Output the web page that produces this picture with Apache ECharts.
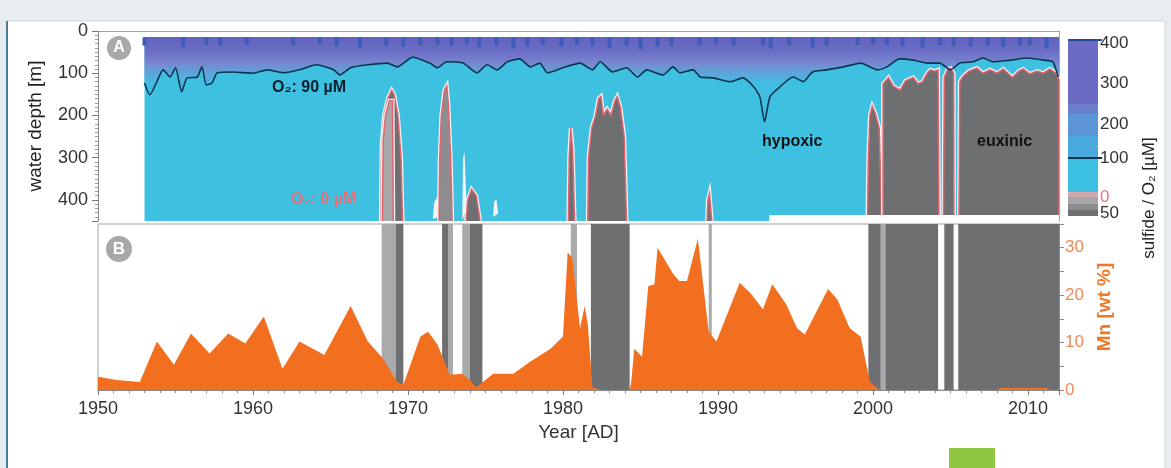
<!DOCTYPE html>
<html><head><meta charset="utf-8">
<script src="https://cdn.jsdelivr.net/npm/echarts@6/dist/echarts.min.js"></script>
<style>html,body{margin:0;padding:0;background:#e8edf0;}#c{width:1171px;height:468px;}</style>
</head><body><div id="c"></div>
<script>
// ---------------- DATA ----------------
// Panel A: record span (years) and depth limits [m]
const recordSpan = [1953.0, 2012.0];
const surfaceDepth = 14;
const dataBottom = [[1953.0, 450], [1993.3, 450], [1993.3, 436], [2012.0, 436]];

// O2 = 90 µM isoline depth [year, depth m]
const o2Line90 = [
  [1953.0,123],[1953.35,151],[1953.8,120],[1954.2,92],[1954.65,109],[1955.0,87],[1955.4,144],[1955.75,111],
  [1956.4,109],[1956.7,85],[1957.0,128],[1957.35,123],[1957.7,99],[1958.7,97],[1960.0,100],[1960.9,92],
  [1962.0,99],[1963.0,92],[1964.1,80],[1965.2,92],[1965.6,104],[1966.3,87],[1967.4,80],[1968.65,76],
  [1969.3,85],[1970.3,62],[1971.4,76],[1971.9,87],[1972.5,73],[1973.55,76],[1974.45,99],[1975.1,80],
  [1975.75,92],[1976.4,73],[1977.2,66],[1977.9,85],[1978.5,76],[1979.0,99],[1980.0,87],[1981.1,76],
  [1981.9,92],[1982.4,73],[1983.2,97],[1984.1,87],[1984.8,109],[1985.4,92],[1986.45,104],[1987.1,85],
  [1987.55,99],[1988.4,92],[1988.85,109],[1989.7,111],[1990.8,120],[1991.6,111],[1992.3,132],[1992.7,156],
  [1993.0,215],[1993.35,156],[1994.0,132],[1994.85,109],[1995.5,120],[1996.1,97],[1997.0,92],[1998.1,85],
  [1999.2,76],[2000.3,92],[2000.9,85],[2001.7,66],[2002.6,69],[2003.5,76],[2004.3,76],[2005.0,92],
  [2005.6,76],[2006.45,73],[2007.1,64],[2007.75,73],[2008.85,69],[2009.95,64],[2011.0,69],[2011.6,73],[2011.95,109]
];

// Winter ventilation spikes of high O2 near the surface [year, depth m]
const ventSpikes = [
  [1953.0,35],[1955.5,38],[1957.0,34],[1957.9,36],[1959.6,33],[1962.6,34],[1964.3,32],[1965.4,36],[1966.9,40],
  [1968.6,36],[1969.7,38],[1970.8,34],[1971.9,33],[1972.8,36],[1973.8,32],[1974.6,38],[1975.7,34],[1976.8,42],
  [1977.7,36],[1978.7,34],[1979.9,38],[1980.9,34],[1981.9,36],[1983.0,40],[1984.1,36],[1985.0,44],[1986.1,38],
  [1987.0,36],[1988.8,34],[1989.9,32],[1991.0,34],[1992.9,36],[1993.4,42],[1994.6,34],[1996.1,40],[1997.0,36],
  [1999.0,34],[2000.0,32],[2000.9,34],[2001.9,36],[2003.2,40],[2004.3,34],[2005.2,36],[2006.3,38],[2007.4,36],
  [2008.4,38],[2009.5,36],[2010.1,34],[2011.2,42]
];

// Sulfidic (O2 = 0 µM) patches: outline [year, depth m]
const patch1969 = [[1968.25,450],[1968.3,270],[1968.45,200],[1968.7,160],[1968.95,140],[1969.1,150],[1969.35,200],[1969.55,300],[1969.65,450]];
const patch1969Light = [[1968.35,450],[1968.4,260],[1968.55,200],[1968.8,165],[1969.0,165],[1969.05,450]];
const patch1972 = [[1972.0,450],[1972.05,300],[1972.15,200],[1972.35,140],[1972.5,130],[1972.6,170],[1972.75,300],[1972.85,450]];
const patch1974 = [[1973.75,450],[1973.85,400],[1974.1,375],[1974.4,390],[1974.65,450]];
const patch1980 = [[1980.35,450],[1980.4,300],[1980.5,230],[1980.62,280],[1980.75,450]];
const patch1982 = [[1981.6,450],[1981.65,300],[1981.85,230],[1982.1,200],[1982.3,160],[1982.45,155],[1982.6,200],[1982.85,185],
  [1983.1,200],[1983.35,165],[1983.5,155],[1983.7,180],[1983.95,250],[1984.1,450]];
const patch1989 = [[1989.3,450],[1989.35,400],[1989.45,385],[1989.6,450]];
const patch2000 = [[1999.65,436],[1999.7,300],[1999.8,200],[1999.95,178],[2000.15,195],[2000.4,230],[2000.55,436]];
const patch2001 = [[2000.65,436],[2000.65,125],[2001.0,110],[2001.3,130],[2001.75,140],[2002.1,118],[2002.6,110],[2002.9,125],
  [2003.2,120],[2003.5,100],[2003.7,92],[2004.0,95],[2004.2,92],[2004.25,436]];
const patch2004 = [[2004.55,436],[2004.6,110],[2004.8,92],[2005.0,88],[2005.2,100],[2005.22,436]];
const patch2006 = [[2005.55,436],[2005.6,120],[2005.8,108],[2006.2,95],[2006.7,88],[2007.1,100],[2007.55,92],[2008.0,100],
  [2008.4,90],[2009.0,110],[2009.4,95],[2009.7,90],[2010.1,102],[2010.6,95],[2011.0,100],[2011.4,90],[2011.8,100],[2012.0,115],[2012.0,436]];
const sulfidicPatches = [patch1969, patch1969Light, patch1972, patch1974, patch1980, patch1982, patch1989, patch2000, patch2001, patch2004, patch2006];

// Low-O2 (white) pockets without sulfide
const oxicPockets = [
  [[1971.6,445],[1971.7,405],[1971.9,392],[1972.02,440]],
  [[1973.5,450],[1973.55,300],[1973.65,288],[1973.78,420]],
  [[1975.5,440],[1975.55,405],[1975.7,398],[1975.82,432]]
];

// Panel B: Mn content [year, wt %]
const mnData = [
  [1950.0,2.8],[1951.2,2.1],[1952.7,1.7],[1953.8,10.2],[1954.9,5.3],[1956.0,11.9],[1957.2,7.7],[1958.4,11.9],[1959.5,9.8],
  [1960.7,15.5],[1961.9,4.5],[1963.0,10.2],[1964.6,7.4],[1966.3,17.7],[1967.4,10.3],[1968.4,6.6],[1969.3,1.7],[1969.7,1.1],
  [1970.8,11.3],[1971.3,12.3],[1971.9,9.6],[1972.7,3.2],[1973.5,3.4],[1974.0,2.1],[1974.4,0.6],[1975.5,3.4],[1976.8,3.4],
  [1977.9,6.0],[1979.2,8.7],[1980.0,11.3],[1980.3,29.0],[1980.6,27.9],[1981.1,13.0],[1981.4,17.7],[1981.6,13.8],[1981.9,0.6],
  [1982.5,0],[1984.3,0],[1984.4,1.7],[1984.6,8.7],[1985.1,7.0],[1985.5,21.9],[1985.9,22.3],[1986.1,30.0],[1987.1,24.5],
  [1987.5,23.0],[1988.0,23.0],[1988.7,31.9],[1989.4,12.3],[1989.9,10.2],[1991.4,22.6],[1992.1,20.4],[1992.9,17.0],[1993.5,22.3],
  [1994.4,18.1],[1995.1,13.0],[1995.6,11.7],[1997.1,21.3],[1997.7,19.1],[1998.5,13.0],[1999.2,11.3],[1999.8,1.7],[2000.3,0.3],
  [2000.5,0],[2008.0,0],[2008.2,0.4],[2011.2,0.4],[2011.4,0],[2012.0,0]
];

// Panel B: anoxic periods [start, end]
const lightBars = [[1968.3,1969.2],[1972.6,1972.9],[1973.5,1974.0],[1980.5,1980.9],[1989.4,1989.6],[2000.5,2000.8]];
const darkBars = [[1969.2,1969.7],[1972.2,1972.6],[1974.0,1974.8],[1981.8,1984.3],[1999.7,2000.5],[2000.8,2004.2],[2004.6,2005.2],[2005.5,2012.0]];

// Colour bar tick labels
const cbLabels = ['400','300','200','100','0','50'];

// ---------------- CHART ----------------
const FONT = '"Liberation Sans", Arial, Helvetica, sans-serif';
const chart = echarts.init(document.getElementById('c'));
const GREY = '#6e6f71', RED = '#e2636f';

function polyRender(list, fillFor, halo) {
  return function (params, api) {
    const pts = list[params.dataIndex].map(p => api.coord(p));
    const fill = fillFor(params.dataIndex);
    const kids = [];
    if (halo) kids.push({type:'polyline', shape:{points:pts}, style:{fill:null, stroke:'#f2f2f2', lineWidth:4}});
    kids.push({type:'polygon', shape:{points:pts}, style:{fill:fill}});
    if (halo) kids.push({type:'polyline', shape:{points:pts}, style:{fill:null, stroke:RED, lineWidth:1.5}});
    return {type:'group', children:kids};
  };
}

const option = {
  backgroundColor: '#e8edf0',
  animation: false,
  textStyle: {fontFamily: FONT},
  grid: [
    {left: 98, right: 112, top: 31, height: 190, show: false},
    {left: 98, right: 112, top: 224, height: 166, show: true, borderColor: '#a3a3a3', borderWidth: 1, backgroundColor: 'transparent'}
  ],
  xAxis: [
    {gridIndex: 0, type: 'value', min: 1950, max: 2012, position: 'top',
     axisLine: {show: true, lineStyle: {color: '#a3a3a3'}}, axisTick: {show: false}, axisLabel: {show: false}, splitLine: {show: false}},
    {gridIndex: 1, type: 'value', min: 1950, max: 2012, interval: 10,
     name: 'Year [AD]', nameLocation: 'middle', nameGap: 33,
     nameTextStyle: {fontSize: 19, color: '#333', fontFamily: FONT},
     axisLine: {show: true, lineStyle: {color: '#8a8a8a'}},
     axisTick: {show: true, length: 5, lineStyle: {color: '#777'}},
     minorTick: {show: true, splitNumber: 10, length: 3, lineStyle: {color: '#888'}},
     axisLabel: {fontSize: 18, color: '#333', margin: 10, showMaxLabel: false, fontFamily: FONT, formatter: v => String(v)},
     splitLine: {show: false}}
  ],
  yAxis: [
    {gridIndex: 0, type: 'value', min: 0, max: 450, interval: 100, inverse: true,
     name: 'water depth [m]', nameLocation: 'middle', nameRotate: 90, nameGap: 53,
     nameTextStyle: {fontSize: 19, color: '#222', fontFamily: FONT},
     axisLine: {show: true, lineStyle: {color: '#8a8a8a'}},
     axisTick: {show: true, length: 6, lineStyle: {color: '#777'}},
     minorTick: {show: true, splitNumber: 10, length: 3, lineStyle: {color: '#999'}},
     axisLabel: {fontSize: 18, color: '#333', margin: 10, showMaxLabel: false, fontFamily: FONT},
     splitLine: {show: false}},
    {gridIndex: 0, type: 'value', min: 0, max: 450, inverse: true, position: 'right',
     axisLine: {show: true, lineStyle: {color: '#a3a3a3'}}, axisTick: {show: false}, axisLabel: {show: false}, splitLine: {show: false}},
    {gridIndex: 1, type: 'value', min: 0, max: 35, interval: 5, position: 'right',
     name: 'Mn [wt %]', nameLocation: 'middle', nameRotate: 90, nameGap: 34,
     nameTextStyle: {fontSize: 19, fontWeight: 'bold', color: '#f07828', fontFamily: FONT},
     axisLine: {show: true, lineStyle: {color: '#8a8a8a'}},
     axisTick: {show: true, length: 5, lineStyle: {color: '#888'}},
     axisLabel: {fontSize: 17, color: '#ec8a5a', margin: 6, fontFamily: FONT,
       formatter: v => (v % 10 === 0 ? String(v) : '')},
     splitLine: {show: false}}
  ],
  series: [
    // cyan background of the O2 section
    {type: 'custom', xAxisIndex: 0, yAxisIndex: 0, z: 1, silent: true,
     data: [[recordSpan[0], surfaceDepth]],
     renderItem: (params, api) => {
       const pts = [api.coord([recordSpan[0], surfaceDepth]), api.coord([recordSpan[1], surfaceDepth])]
         .concat(dataBottom.slice().reverse().map(p => api.coord(p)));
       return {type: 'polygon', shape: {points: pts}, style: {fill: '#3ec0e1'}};
     }},
    // well oxygenated upper layer down to the 90 µM line
    {type: 'custom', xAxisIndex: 0, yAxisIndex: 0, z: 2, silent: true,
     data: [[recordSpan[0], surfaceDepth]],
     renderItem: (params, api) => {
       const pts = [api.coord([recordSpan[0], surfaceDepth]), api.coord([recordSpan[1], surfaceDepth]),
         api.coord([recordSpan[1], o2Line90[o2Line90.length - 1][1]])]
         .concat(o2Line90.slice().reverse().map(p => api.coord(p)));
       const y0 = api.coord([1980, surfaceDepth])[1], y1 = api.coord([1980, 125])[1];
       return {type: 'polygon', shape: {points: pts}, style: {
         fill: new echarts.graphic.LinearGradient(0, y0, 0, y1, [
           {offset: 0, color: '#6163be'}, {offset: 0.33, color: '#6c6fc5'},
           {offset: 0.55, color: '#7886cf'}, {offset: 0.75, color: '#5fa2da'}, {offset: 1, color: '#42bde2'}], true)}};
     }},
    // ventilation spikes
    {type: 'custom', xAxisIndex: 0, yAxisIndex: 0, z: 3, silent: true,
     data: ventSpikes,
     renderItem: (params, api) => {
       const a = api.coord([api.value(0) - 0.13, surfaceDepth]);
       const b = api.coord([api.value(0) + 0.13, api.value(1)]);
       return {type: 'rect', shape: {x: a[0], y: a[1], width: b[0] - a[0], height: b[1] - a[1], r: 1.5}, style: {fill: '#3f5cb8'}};
     }},
    // low-O2 white pockets
    {type: 'custom', xAxisIndex: 0, yAxisIndex: 0, z: 4, silent: true,
     data: oxicPockets.map(p => p[0]),
     renderItem: polyRender(oxicPockets, () => '#f4f4f4', false)},
    // sulfidic patches
    {type: 'custom', xAxisIndex: 0, yAxisIndex: 0, z: 5, silent: true,
     data: sulfidicPatches.map(p => p[0]),
     renderItem: polyRender(sulfidicPatches, i => (i === 1 ? '#a8a8aa' : (i === 2 ? '#8d8d8f' : GREY)), true)},
    // O2 90 µM isoline
    {type: 'line', xAxisIndex: 0, yAxisIndex: 0, z: 6, data: o2Line90, symbol: 'none', smooth: 0.2,
     lineStyle: {color: '#0d3450', width: 1.6}, silent: true},
    // anoxic bars panel B
    {type: 'custom', xAxisIndex: 1, yAxisIndex: 2, z: 2, silent: true,
     data: lightBars.map(b => [b[0], 0, b[1], 1]).concat(darkBars.map(b => [b[0], 0, b[1], 2])),
     renderItem: (params, api) => {
       const a = api.coord([api.value(0), 35]);
       const b = api.coord([api.value(2), 0]);
       return {type: 'rect', shape: {x: a[0], y: a[1], width: b[0] - a[0], height: b[1] - a[1]},
         style: {fill: api.value(3) === 1 ? '#a9aaac' : GREY}};
     }},
    // Mn
    {type: 'line', xAxisIndex: 1, yAxisIndex: 2, z: 3, data: mnData, symbol: 'none',
     lineStyle: {width: 0}, areaStyle: {color: '#f36f20', opacity: 1}, silent: true}
  ],
  graphic: [
    {type: 'rect', z: -100, shape: {x: 7, y: 21, width: 1158, height: 460}, style: {fill: '#ffffff', stroke: '#cfd6da', lineWidth: 1}},
    {type: 'rect', z: -99, shape: {x: 6, y: 21, width: 2, height: 460}, style: {fill: '#4d7896'}},
    {type: 'rect', z: 100, shape: {x: 949, y: 448, width: 46, height: 22}, style: {fill: '#8fc742'}},
    // panel letters
    {type: 'circle', z: 100, shape: {cx: 119, cy: 48, r: 12}, style: {fill: '#a6a8aa'}},
    {type: 'text', z: 101, x: 119, y: 48, style: {text: 'A', fill: '#fff', font: 'bold 16px ' + FONT, textAlign: 'center', textVerticalAlign: 'middle'}},
    {type: 'circle', z: 100, shape: {cx: 119, cy: 249, r: 13}, style: {fill: '#a6a8aa'}},
    {type: 'text', z: 101, x: 119, y: 249, style: {text: 'B', fill: '#fff', font: 'bold 17px ' + FONT, textAlign: 'center', textVerticalAlign: 'middle'}},
    // annotations
    {type: 'text', z: 101, x: 272, y: 88, style: {text: 'O₂: 90 µM', fill: '#0b1e2c', font: 'bold 16px ' + FONT, textVerticalAlign: 'middle'}},
    {type: 'text', z: 101, x: 291, y: 200, style: {text: 'O₂: 0 µM', fill: '#e8707c', font: 'bold 16px ' + FONT, textVerticalAlign: 'middle'}},
    {type: 'text', z: 101, x: 762, y: 142, style: {text: 'hypoxic', fill: '#111', font: 'bold 16px ' + FONT, textVerticalAlign: 'middle'}},
    {type: 'text', z: 101, x: 977, y: 142, style: {text: 'euxinic', fill: '#111', font: 'bold 16px ' + FONT, textVerticalAlign: 'middle'}},
    // colour bar
    {type: 'rect', z: 100, shape: {x: 1068, y: 40, width: 30, height: 64}, style: {fill: '#6a6bc4'}},
    {type: 'rect', z: 100, shape: {x: 1068, y: 104, width: 30, height: 10}, style: {fill: '#6a80cb'}},
    {type: 'rect', z: 100, shape: {x: 1068, y: 114, width: 30, height: 22}, style: {fill: '#5b95d6'}},
    {type: 'rect', z: 100, shape: {x: 1068, y: 136, width: 30, height: 22}, style: {fill: '#4aaade'}},
    {type: 'rect', z: 100, shape: {x: 1068, y: 158, width: 30, height: 34}, style: {fill: '#3cc0e1'}},
    {type: 'rect', z: 100, shape: {x: 1068, y: 192, width: 30, height: 5}, style: {fill: '#d3a9b0'}},
    {type: 'rect', z: 100, shape: {x: 1068, y: 197, width: 30, height: 7}, style: {fill: '#a7a7a9'}},
    {type: 'rect', z: 100, shape: {x: 1068, y: 204, width: 30, height: 6}, style: {fill: '#8c8c8e'}},
    {type: 'rect', z: 100, shape: {x: 1068, y: 210, width: 30, height: 6}, style: {fill: '#6e6f71'}},
    {type: 'rect', z: 101, shape: {x: 1068, y: 39, width: 34, height: 2}, style: {fill: '#23489c'}},
    {type: 'rect', z: 101, shape: {x: 1068, y: 157, width: 34, height: 2}, style: {fill: '#0d3450'}},
    {type: 'text', z: 101, x: 1100, y: 43, style: {text: cbLabels[0], fill: '#333', font: '17px ' + FONT, textVerticalAlign: 'middle'}},
    {type: 'text', z: 101, x: 1100, y: 83, style: {text: cbLabels[1], fill: '#333', font: '17px ' + FONT, textVerticalAlign: 'middle'}},
    {type: 'text', z: 101, x: 1100, y: 124, style: {text: cbLabels[2], fill: '#333', font: '17px ' + FONT, textVerticalAlign: 'middle'}},
    {type: 'text', z: 101, x: 1100, y: 158, style: {text: cbLabels[3], fill: '#333', font: '17px ' + FONT, textVerticalAlign: 'middle'}},
    {type: 'text', z: 101, x: 1100, y: 197, style: {text: cbLabels[4], fill: '#e8707c', font: '17px ' + FONT, textVerticalAlign: 'middle'}},
    {type: 'text', z: 101, x: 1100, y: 213, style: {text: cbLabels[5], fill: '#333', font: '17px ' + FONT, textVerticalAlign: 'middle'}},
    {type: 'text', z: 101, x: 1149, y: 198, rotation: Math.PI / 2,
     style: {text: 'sulfide / O₂ [µM]', fill: '#222', font: '17px ' + FONT, textAlign: 'center', textVerticalAlign: 'middle'}}
  ]
};
chart.setOption(option);
</script>
</body></html>
